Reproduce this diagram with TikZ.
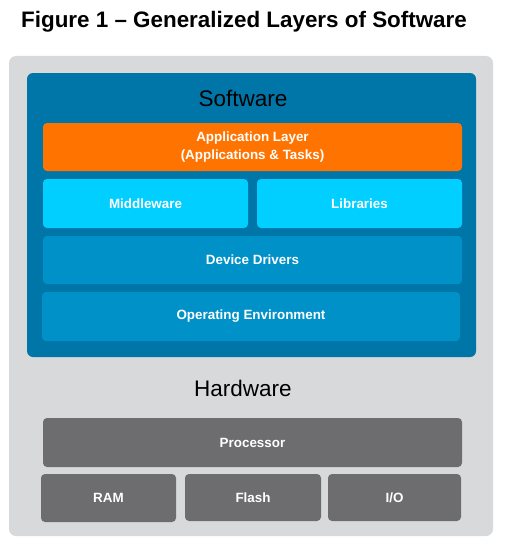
\documentclass[tikz,border=0pt]{standalone}
\usepackage{fontspec}
\setmainfont{Liberation Sans}
\usepackage{tikz}
\definecolor{back_gray}{RGB}{216,217,219}
\definecolor{sw_blue}{RGB}{0,117,168}
\definecolor{app_orange}{RGB}{255,115,0}
\definecolor{mid_cyan}{RGB}{0,207,255}
\definecolor{drv_blue}{RGB}{0,145,201}
\definecolor{hw_gray}{RGB}{109,108,111}

\begin{document}
\begin{tikzpicture}[x=1pt,y=-1pt]
    \tikzstyle{box}=[draw=none, rectangle, rounded corners=4pt, inner sep=0pt, text=white, font=\bfseries\fontsize{13.4}{18}\selectfont, align=center]
    \tikzstyle{app}=[style=box, fill=app_orange]
    \tikzstyle{mid}=[style=box, fill=mid_cyan]
    \tikzstyle{drv}=[style=box, fill=drv_blue]
    \tikzstyle{hw}=[style=box, fill=hw_gray]
    \tikzstyle{head}=[text=black, inner sep=0pt, font=\fontsize{22.5}{26}\selectfont]

    \useasboundingbox (0,0) rectangle (508,551);
    \node[anchor=base west, inner sep=0pt, font=\bfseries\fontsize{22.4}{26}\selectfont] (title) at (21,28) {Figure 1 – Generalized Layers of Software};

    \node[fill=back_gray, rounded corners=7pt, minimum width=484pt, minimum height=480pt] (outer) at (251,296) {};
    \node[fill=sw_blue, rounded corners=6pt, minimum width=449pt, minimum height=284pt] (sw) at (251.5,215) {};
    \node[head, anchor=base] (swl) at (243,106) {Software};

    \node[app, minimum width=419pt, minimum height=48pt] (a) at (252.5,147) {Application Layer\\(Applications \& Tasks)};
    \node[mid, minimum width=205pt, minimum height=49pt] (m) at (145.5,203.5) {Middleware};
    \node[mid, minimum width=205pt, minimum height=49pt] (l) at (359.5,203.5) {Libraries};
    \node[drv, minimum width=419pt, minimum height=48pt] (d) at (252.5,260) {Device Drivers};
    \node[drv, minimum width=418pt, minimum height=49pt] (e) at (251,316.5) {Operating Environment};

    \node[head, anchor=base] (hwl) at (243,396) {Hardware};
    \node[hw, minimum width=419pt, minimum height=49pt] (p) at (252.5,442.5) {Processor};
    \node[hw, minimum width=135pt, minimum height=48pt] (r) at (108.5,498) {RAM};
    \node[hw, minimum width=136pt, minimum height=47pt] (f) at (253,497.5) {Flash};
    \node[hw, minimum width=133pt, minimum height=47pt] (io) at (394.5,497.5) {I/O};
\end{tikzpicture}
\end{document}
